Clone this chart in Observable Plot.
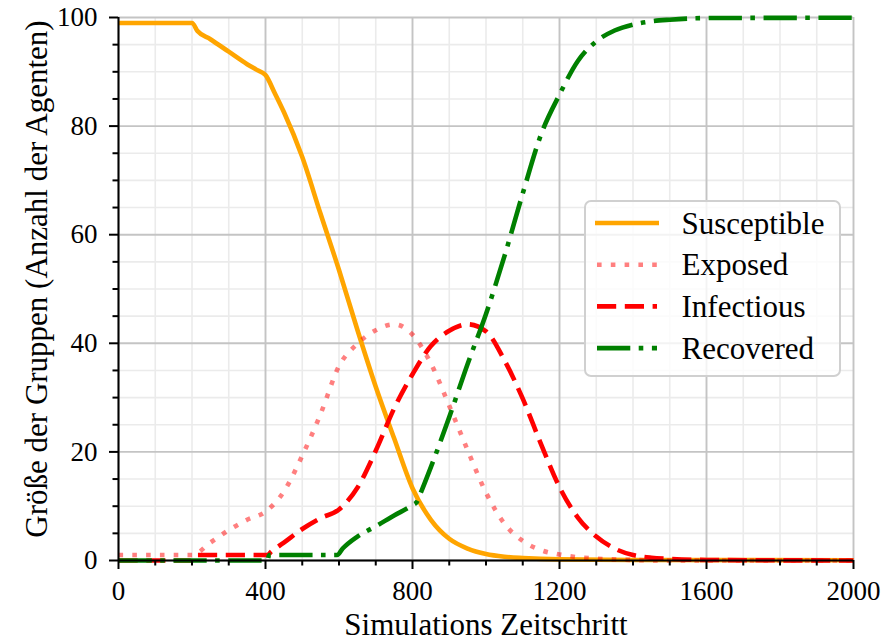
<!DOCTYPE html>
<html>
<head>
<meta charset="utf-8">
<script src="https://cdn.jsdelivr.net/npm/d3@7"></script>
<script src="https://cdn.jsdelivr.net/npm/@observablehq/plot@0.6"></script>
<style>
  html, body { margin: 0; padding: 0; background: #fff; }
  #wrap { position: relative; width: 888px; height: 644px; overflow: hidden; }
  #legend { position: absolute; left: 584px; top: 200px; width: 253px; height: 173px;
            border: 2px solid #d0d0d0; border-radius: 7px; background: rgba(255,255,255,0.8); }
  #legend svg { position: absolute; left: 0; top: 0; }
</style>
</head>
<body>
<div id="wrap"><div id="legend"></div></div>
<script>
// ---- data ----
const seriesNames = ["Susceptible", "Exposed", "Infectious", "Recovered"];

const susceptibleX = [0, 200, 215, 250, 300, 350, 375, 400, 425, 450, 500, 550, 600, 650, 700, 750, 800, 850, 900, 950, 1000, 1050, 1100, 1200, 1400, 2000];
const susceptibleY = [99, 99, 97.5, 96, 93.7, 91.4, 90.4, 89.4, 86.1, 82.6, 74.3, 63.8, 53.5, 42.5, 32, 22.5, 13.3, 7.5, 4, 2.2, 1.2, 0.7, 0.45, 0.2, 0.1, 0.05];

const exposedX = [0, 200, 250, 300, 350, 400, 450, 500, 550, 600, 650, 700, 750, 800, 850, 900, 950, 1000, 1050, 1100, 1150, 1200, 1250, 1300, 1400, 1500, 2000];
const exposedY = [1, 1, 3.3, 5.6, 7.5, 9, 12.7, 19.3, 27, 35.8, 39.9, 42.4, 43.5, 41.6, 36.3, 28.5, 20.3, 12.5, 6.8, 3.6, 1.9, 1.1, 0.6, 0.35, 0.1, 0, 0];

const infectiousX = [0, 200, 205, 405, 415, 450, 500, 550, 600, 650, 700, 750, 800, 850, 900, 950, 1000, 1050, 1100, 1150, 1200, 1250, 1300, 1350, 1400, 1450, 1500, 1600, 2000];
const infectiousY = [0, 0, 1, 1, 1.6, 3.3, 5.8, 7.8, 9.4, 13.4, 20.2, 28, 34.3, 39.5, 42.3, 43.5, 42.2, 36.9, 29.8, 21.4, 13.5, 7.9, 4.4, 2.2, 1, 0.5, 0.3, 0.1, 0];

const recoveredX = [0, 405, 410, 595, 610, 650, 700, 750, 800, 812, 822, 850, 900, 950, 1000, 1050, 1100, 1150, 1200, 1250, 1300, 1350, 1400, 1450, 1500, 1600, 2000];
const recoveredY = [0, 0, 1, 1, 2.2, 4.4, 6.3, 8.3, 10.2, 10.8, 12.4, 17.2, 26.4, 36.2, 45.4, 56, 67.6, 78.5, 85.8, 92, 95.6, 97.6, 98.7, 99.3, 99.6, 99.9, 99.95];

const xMajorTicks = [0, 400, 800, 1200, 1600, 2000];
const xMinorTicks = [100, 200, 300, 500, 600, 700, 900, 1000, 1100, 1300, 1400, 1500, 1700, 1800, 1900];
const yMajorTicks = [0, 20, 40, 60, 80, 100];
const yMinorTicks = [5, 10, 15, 25, 30, 35, 45, 50, 55, 65, 70, 75, 85, 90, 95];

const xLabel = "Simulations Zeitschritt";
const yLabel = "Größe der Gruppen (Anzahl der Agenten)";

// ---- styles ----
const styles = {
  Susceptible: {stroke: "orange", opacity: 1, dash: null},
  Exposed:     {stroke: "red", opacity: 0.5, dash: "4.6,9.2"},
  Infectious:  {stroke: "red", opacity: 1, dash: "19.2,8.6"},
  Recovered:   {stroke: "green", opacity: 1, dash: "33.3,8.4,4.6,8.6"}
};
const LW = 4.6;

const raw = {
  Susceptible: [susceptibleX, susceptibleY],
  Exposed: [exposedX, exposedY],
  Infectious: [infectiousX, infectiousY],
  Recovered: [recoveredX, recoveredY]
};
const tables = Object.fromEntries(seriesNames.map(n => [n, raw[n][0].map((x, i) => ({x, y: raw[n][1][i]}))]));

const lineMarks = seriesNames.map(n => Plot.line(tables[n], {
  x: "x", y: "y",
  stroke: styles[n].stroke,
  strokeOpacity: styles[n].opacity,
  strokeWidth: LW,
  strokeDasharray: styles[n].dash ?? undefined,
  strokeLinecap: "butt",
  strokeLinejoin: "round",
  curve: "monotone-x"
}));

const chart = Plot.plot({
  width: 888,
  height: 644,
  marginLeft: 118,
  marginRight: 35,
  marginTop: 17,
  marginBottom: 84,
  x: {domain: [0, 2000]},
  y: {domain: [0, 100]},
  style: {fontFamily: "'Liberation Serif', serif", fontSize: "27px", background: "white", color: "black", overflow: "visible"},
  marks: [
    Plot.ruleX(xMinorTicks, {stroke: "#ebebeb", strokeWidth: 1.6}),
    Plot.ruleY(yMinorTicks, {stroke: "#ebebeb", strokeWidth: 1.6}),
    Plot.ruleX(xMajorTicks, {stroke: "#c4c4c4", strokeWidth: 1.9}),
    Plot.ruleY(yMajorTicks, {stroke: "#c4c4c4", strokeWidth: 1.9}),
    ...lineMarks,
    Plot.ruleX([0], {stroke: "black", strokeWidth: 2}),
    Plot.ruleY([0], {stroke: "black", strokeWidth: 2}),
    Plot.axisX(xMinorTicks, {tickSize: 5.5, strokeWidth: 2, tickFormat: () => "", label: null}),
    Plot.axisY(yMinorTicks, {tickSize: 5.5, strokeWidth: 2, tickFormat: () => "", label: null}),
    Plot.axisX(xMajorTicks, {tickSize: 9, tickPadding: 11, strokeWidth: 2, fontSize: 27, label: null, tickFormat: d => String(d)}),
    Plot.axisY(yMajorTicks, {tickSize: 9, tickPadding: 12, strokeWidth: 2, fontSize: 27, label: null, tickFormat: d => String(d)}),
    Plot.text([xLabel], {text: d => d, frameAnchor: "bottom", textAnchor: "middle", lineAnchor: "middle", dy: 65, fontSize: 31}),
    Plot.text([yLabel], {text: d => d, frameAnchor: "left", textAnchor: "middle", lineAnchor: "middle", rotate: -90, dx: -81, dy: -10, fontSize: 31})
  ]
});
document.getElementById("wrap").prepend(chart);

// ---- legend (HTML overlay with inline SVG samples) ----
const ns = "http://www.w3.org/2000/svg";
const lsvg = document.createElementNS(ns, "svg");
lsvg.setAttribute("width", 253);
lsvg.setAttribute("height", 173);
lsvg.style.fontFamily = "'Liberation Serif', serif";
seriesNames.forEach((n, i) => {
  const cy = 21 + i * 41.7;
  const ln = document.createElementNS(ns, "line");
  ln.setAttribute("x1", n === "Susceptible" ? 9 : 11);
  ln.setAttribute("x2", n === "Susceptible" ? 73 : 71);
  ln.setAttribute("y1", cy);
  ln.setAttribute("y2", cy);
  ln.setAttribute("stroke", styles[n].stroke);
  ln.setAttribute("stroke-opacity", styles[n].opacity);
  ln.setAttribute("stroke-width", LW);
  if (styles[n].dash) ln.setAttribute("stroke-dasharray", styles[n].dash);
  lsvg.appendChild(ln);
  const tx = document.createElementNS(ns, "text");
  tx.setAttribute("x", 95.5);
  tx.setAttribute("y", cy + 10.5);
  tx.setAttribute("font-size", 31);
  tx.setAttribute("fill", "black");
  tx.textContent = n;
  lsvg.appendChild(tx);
});
document.getElementById("legend").appendChild(lsvg);
</script>
</body>
</html>
